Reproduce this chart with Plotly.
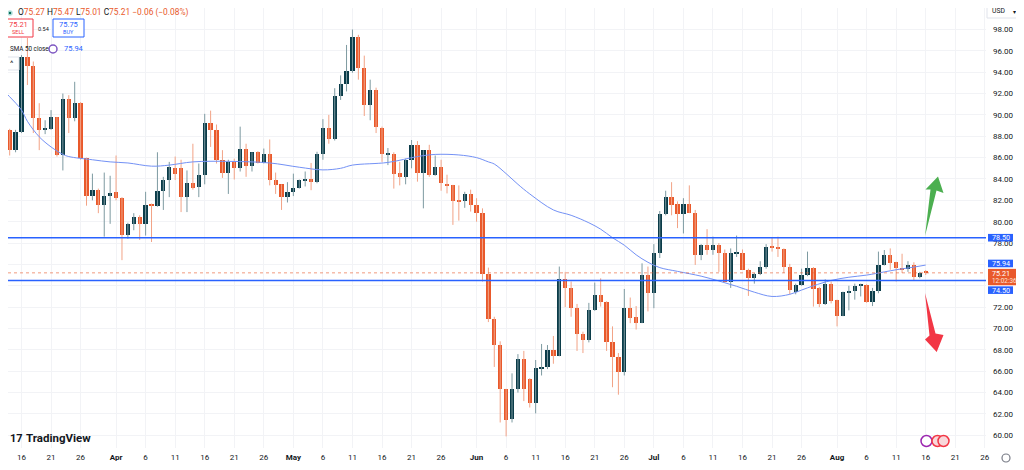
import pandas as pd
import plotly.graph_objects as go

# daily candles, 13 Mar -> 16 Aug
dates = pd.date_range("2025-03-13", periods=157, freq="D")

opens = [86.1, 88.6, 86.7, 88.4, 95.45, 94.6, 89.7, 88.6, 88.7, 89.8,
         86.2, 91.45, 89.7, 91.1, 86.0, 82.4, 83.0, 81.55, 82.4, 82.8,
         82.2, 78.8, 79.8, 80.45, 79.8, 81.6, 81.5, 82.9, 83.9, 85.05,
         85.05, 82.3, 83.6, 83.25, 84.4, 89.2, 88.6, 85.8, 84.6, 85.6,
         85.05, 86.8, 85.2, 86.55, 85.5, 86.3, 83.95, 83.5, 82.3, 82.75,
         83.15, 83.85, 84.0, 83.7, 86.3, 88.8, 87.7, 91.8, 92.9, 94.1,
         97.3, 94.4, 90.9, 92.3, 88.8, 86.3, 86.3, 84.6, 84.15, 85.8,
         87.2, 84.6, 86.7, 84.4, 85.1, 83.5, 83.4, 82.0, 81.9, 82.6,
         81.55, 80.8, 75.1, 70.9, 68.5, 64.3, 61.5, 64.3, 67.15, 65.3,
         63.0, 66.3, 66.35, 68.0, 67.45, 74.6, 73.8, 71.9, 69.45, 68.9,
         71.7, 73.1, 72.5, 68.7, 67.3, 65.95, 71.9, 71.05, 70.55, 75.0,
         73.3, 77.05, 80.7, 82.35, 81.7, 80.7, 81.7, 80.8, 76.9, 77.8,
         77.35, 77.8, 77.1, 74.4, 77.05, 77.05, 75.5, 74.7, 75.1, 75.8,
         77.6, 77.6, 77.45, 75.8, 73.4, 74.07, 75.0, 75.7, 73.75, 72.3,
         74.2, 72.65, 71.2, 73.4, 73.5, 74.0, 74.1, 72.5, 73.5, 75.95,
         76.9, 76.2, 75.7, 75.55, 75.95, 74.85, 75.27]
highs = [92.5, 88.7, 88.6, 95.6, 97.2, 95.0, 91.1, 89.5, 90.45, 89.8,
         92.0, 91.85, 93.1, 91.2, 86.0, 84.5, 83.1, 84.6, 84.3, 86.2,
         82.3, 79.9, 80.8, 80.6, 82.8, 81.7, 86.5, 84.2, 85.6, 86.1,
         85.8, 84.8, 87.3, 85.45, 90.1, 90.4, 89.1, 86.7, 85.8, 85.9,
         88.9, 87.3, 86.5, 86.6, 86.85, 87.7, 84.6, 83.5, 83.7, 84.5,
         83.95, 84.7, 85.5, 86.55, 89.6, 90.0, 92.5, 93.7, 96.55, 98.0,
         97.5, 95.55, 93.3, 92.55, 88.9, 86.9, 86.5, 85.6, 85.9, 87.65,
         87.55, 86.7, 87.2, 86.2, 85.8, 84.4, 83.45, 83.4, 82.8, 83.0,
         82.2, 81.25, 75.7, 71.1, 68.8, 64.35, 65.8, 67.6, 67.9, 65.35,
         67.05, 68.55, 68.45, 69.3, 75.8, 75.3, 74.4, 72.3, 69.7, 72.4,
         74.3, 74.7, 72.55, 70.2, 67.7, 73.7, 72.9, 72.1, 76.1, 75.8,
         77.9, 81.0, 82.9, 83.7, 81.9, 82.2, 83.4, 81.1, 77.9, 79.3,
         78.6, 78.0, 77.4, 77.5, 78.7, 77.4, 75.6, 75.2, 76.3, 77.9,
         78.5, 78.6, 77.5, 76.05, 74.2, 75.6, 77.2, 75.75, 73.9, 74.6,
         74.4, 72.7, 73.45, 74.0, 74.2, 74.2, 74.15, 73.8, 77.2, 77.35,
         77.5, 76.25, 77.0, 76.3, 76.2, 75.3, 75.47]
lows = [85.6, 86.2, 86.5, 88.3, 92.8, 88.3, 86.7, 88.2, 88.6, 86.1,
        84.8, 88.3, 89.4, 85.8, 81.5, 82.0, 80.8, 78.6, 79.8, 82.0,
        76.4, 78.4, 79.2, 78.3, 78.7, 78.1, 81.4, 81.1, 82.3, 83.9,
        80.9, 80.9, 83.0, 82.3, 83.5, 87.0, 85.45, 84.1, 82.6, 83.95,
        84.7, 84.2, 84.7, 85.45, 85.45, 83.4, 82.6, 81.1, 81.8, 82.4,
        83.1, 83.3, 82.95, 83.6, 85.8, 87.3, 87.6, 91.4, 92.2, 93.95,
        93.3, 89.9, 89.5, 88.3, 85.6, 85.3, 83.1, 83.4, 83.5, 85.0,
        83.75, 81.25, 84.2, 84.3, 82.9, 82.65, 79.7, 80.1, 81.3, 80.95,
        80.0, 74.4, 70.6, 66.4, 61.2, 59.9, 61.2, 64.0, 63.2, 62.6,
        62.05, 65.6, 66.2, 66.7, 67.4, 72.0, 71.1, 67.9, 67.7, 68.7,
        71.65, 72.05, 67.9, 64.5, 63.8, 65.6, 70.5, 69.9, 70.5, 71.6,
        71.9, 76.6, 80.6, 80.6, 79.4, 78.9, 80.8, 75.95, 76.4, 76.9,
        76.9, 75.3, 74.4, 73.8, 76.7, 75.5, 73.05, 74.2, 75.0, 75.6,
        77.2, 76.7, 75.2, 73.2, 73.2, 74.0, 74.9, 72.05, 72.0, 72.2,
        72.35, 70.2, 71.15, 71.7, 72.7, 73.0, 72.4, 72.1, 73.3, 75.9,
        75.5, 74.4, 75.2, 75.3, 74.5, 74.7, 75.01]
closes = [88.6, 86.7, 88.4, 95.45, 94.6, 89.7, 88.6, 88.7, 89.8, 86.2,
          91.45, 89.7, 91.1, 86.0, 82.4, 83.0, 81.55, 82.4, 82.7, 82.2,
          78.8, 79.8, 80.45, 79.8, 81.6, 81.5, 82.9, 83.9, 85.1, 84.5,
          82.3, 83.6, 83.2, 84.4, 89.2, 88.6, 85.8, 84.6, 85.6, 85.05,
          86.8, 85.2, 86.5, 85.5, 86.3, 83.95, 83.4, 82.3, 82.75, 83.15,
          83.9, 84.0, 83.7, 86.3, 88.8, 87.7, 91.8, 92.9, 94.1, 97.3,
          94.4, 90.9, 92.3, 88.9, 86.3, 86.35, 84.5, 84.15, 85.8, 87.2,
          84.6, 86.7, 84.4, 85.1, 83.6, 83.4, 81.95, 81.9, 82.6, 81.55,
          80.8, 75.1, 70.9, 68.45, 64.3, 61.4, 64.3, 67.15, 64.3, 63.0,
          66.3, 66.4, 68.0, 67.45, 74.6, 73.8, 71.95, 69.45, 68.9, 71.7,
          73.1, 72.5, 68.7, 67.3, 65.95, 71.9, 70.95, 70.55, 75.0, 73.3,
          77.05, 80.7, 82.35, 81.6, 80.7, 81.7, 80.85, 76.9, 77.8, 77.35,
          77.8, 77.1, 74.4, 77.05, 77.2, 75.5, 74.7, 75.1, 75.8, 77.6,
          77.55, 77.45, 75.8, 73.6, 74.07, 75.0, 75.7, 73.7, 72.3, 74.2,
          72.6, 71.2, 73.4, 73.5, 74.0, 74.1, 72.5, 73.5, 75.95, 76.9,
          76.1, 75.7, 75.5, 75.9, 74.8, 75.2, 75.21]

# SMA 50
sma_dates = ["2025-03-12", "2025-03-14", "2025-03-16", "2025-03-17", "2025-03-19",
             "2025-03-21", "2025-03-23", "2025-03-24", "2025-03-28", "2025-03-31",
             "2025-04-03", "2025-04-07", "2025-04-10", "2025-04-14", "2025-04-20",
             "2025-04-27", "2025-05-02", "2025-05-06", "2025-05-09", "2025-05-11",
             "2025-05-17", "2025-05-22", "2025-05-25", "2025-05-29", "2025-06-01",
             "2025-06-03", "2025-06-04", "2025-06-06", "2025-06-08", "2025-06-10",
             "2025-06-14", "2025-06-17", "2025-06-20", "2025-06-22", "2025-06-24",
             "2025-06-26", "2025-06-28", "2025-06-30", "2025-07-02", "2025-07-05",
             "2025-07-09", "2025-07-12", "2025-07-15", "2025-07-18", "2025-07-21",
             "2025-07-24", "2025-07-26", "2025-07-28", "2025-07-31", "2025-08-03",
             "2025-08-06", "2025-08-09", "2025-08-11", "2025-08-14", "2025-08-16"]
sma_values = [92.8, 91.7, 90.45, 89.4, 87.95, 87.0, 86.3, 86.1, 85.8, 85.6,
              85.5, 85.2, 85.3, 85.6, 85.65, 85.5, 85.1, 84.85, 85.0, 85.3,
              85.55, 86.1, 86.3, 86.25, 86.0, 85.6, 85.4, 84.5, 83.5, 82.6,
              81.1, 80.6, 79.9, 79.3, 78.5, 77.8, 76.9, 76.2, 75.7, 75.35,
              74.9, 74.45, 73.95, 73.4, 73.0, 73.2, 73.6, 74.0, 74.5, 74.8,
              75.0, 75.3, 75.5, 75.75, 75.94]

levels = [78.5, 74.5]
tick_dates = ["2025-03-16", "2025-03-21", "2025-03-26", "2025-04-01", "2025-04-06",
              "2025-04-11", "2025-04-16", "2025-04-21", "2025-04-26", "2025-05-01",
              "2025-05-06", "2025-05-11", "2025-05-16", "2025-05-21", "2025-05-26",
              "2025-06-01", "2025-06-06", "2025-06-11", "2025-06-16", "2025-06-21",
              "2025-06-26", "2025-07-01", "2025-07-06", "2025-07-11", "2025-07-16",
              "2025-07-21", "2025-07-26", "2025-08-01", "2025-08-06", "2025-08-11",
              "2025-08-16", "2025-08-21", "2025-08-26"]
tick_labels = ["16", "21", "26", "<b>Apr</b>", "6", "11", "16", "21", "26", "<b>May</b>",
               "6", "11", "16", "21", "26", "<b>Jun</b>", "6", "11", "16", "21",
               "26", "<b>Jul</b>", "6", "11", "16", "21", "26", "<b>Aug</b>", "6", "11",
               "16", "21", "26"]
price_ticks = [60, 62, 64, 66, 68, 70, 72, 74, 76, 78, 80, 82, 84, 86, 88, 90, 92, 94, 96, 98]
# 74 and 76 sit under the price labels on the axis, so their text is hidden
price_labels = ["60.00", "62.00", "64.00", "66.00", "68.00", "70.00", "72.00", "", "",
                "78.00", "80.00", "82.00", "84.00", "86.00", "88.00", "90.00", "92.00",
                "94.00", "96.00", "98.00"]

UP = "#0b3c49"
DOWN = "#e9592b"
UP_WICK = "#7d9aa1"
DOWN_WICK = "#f2a386"
BLUE = "#2962ff"
TXT = "#131722"

# page has an 8px body margin, so the figure is drawn 8px in from the corner
OFF = 8
W, H = 1024 - OFF, 470 - OFF
ML, MR, MT, MB = 0, 38, 0, 22
PW, PH = W - ML - MR, H - MT - MB


def px(x):
    # reference-picture pixel -> paper x
    return (x - OFF - ML) / PW


def py(y):
    return 1 - (y - OFF - MT) / PH


fig = go.Figure()

# wicks
for up in (True, False):
    wx, wy = [], []
    for d, o, h, l, c in zip(dates, opens, highs, lows, closes):
        if (c >= o) == up:
            wx += [d, d, None]
            wy += [l, h, None]
    fig.add_trace(go.Scatter(x=wx, y=wy, mode="lines", hoverinfo="skip",
                             line=dict(color=UP_WICK if up else DOWN_WICK, width=1)))

# bodies
base = [min(o, c) for o, c in zip(opens, closes)]
height = [max(abs(c - o), 0.09) for o, c in zip(opens, closes)]
cols = [UP if c >= o else DOWN for o, c in zip(opens, closes)]
fig.add_trace(go.Bar(x=dates, y=height, base=base, marker_color=cols,
                     marker_line_width=0, width=0.72 * 86400000))

fig.add_trace(go.Scatter(x=sma_dates, y=sma_values, mode="lines",
                         line=dict(color="#7391f5", width=1, shape="spline"),
                         hoverinfo="skip"))

for lv in levels:
    fig.add_hline(y=lv, line=dict(color=BLUE, width=1.5))
fig.add_hline(y=closes[-1], line=dict(color=DOWN, width=1, dash="dot"), opacity=0.6)


def note(x, y, text, size=8, color=TXT, xa="center", **kw):
    d = dict(x=x, y=y, text=text, xanchor=xa, yanchor="middle", showarrow=False,
             xref="paper", yref="paper", font=dict(size=size, color=color))
    d.update(kw)
    return d


ann = []
# header
ann.append(note(px(16), py(13), (
    "O<span style='color:#e9592b'>75.27</span> H<span style='color:#e9592b'>75.47</span> "
    "L<span style='color:#e9592b'>75.01</span> C<span style='color:#e9592b'>75.21</span> "
    "<span style='color:#e9592b'>−0.06 (−0.08%)</span>"), size=8.4, xa="left"))
ann.append(note(px(18), py(24.5), "75.21", 7.5, "#f23645"))
ann.append(note(px(18), py(32), "SELL", 5.5, "#f23645"))
ann.append(note(px(68.5), py(24.5), "75.75", 7.5, BLUE))
ann.append(note(px(68.5), py(32), "BUY", 5.5, BLUE))
ann.append(note(px(43), py(29), "0.54", 5.5))
ann.append(note(px(8), py(49), "SMA 50 close", 6.3, xa="left"))
ann.append(note(px(62), py(49), "75.94", 7.5, BLUE, xa="left"))
ann.append(note(px(12), py(63), "^", 8))
# logo
ann.append(note(px(8), py(438), "<b>17</b>", 11, xa="left"))
ann.append(note(px(24), py(438), "<b>TradingView</b>", 11.5, xa="left"))
# USD box
ann.append(note(px(990), py(11.5), "USD", 6.8, xa="left"))
ann.append(note(px(1015), py(11.5), "▾", 6))

shapes = [
    dict(type="rect", xref="paper", yref="paper", x0=px(3), x1=px(33), y0=py(19), y1=py(37),
         line=dict(color="#f23645", width=1), fillcolor="white"),
    dict(type="rect", xref="paper", yref="paper", x0=px(53), x1=px(84), y0=py(19), y1=py(37),
         line=dict(color=BLUE, width=1), fillcolor="white"),
    dict(type="rect", xref="paper", yref="paper", x0=px(2), x1=px(19), y0=py(57), y1=py(70),
         line=dict(color="#e0e3eb", width=1), fillcolor="white"),
    dict(type="circle", xref="paper", yref="paper", x0=px(8), x1=px(12), y0=py(11), y1=py(15),
         line=dict(color="#b2dfdb", width=1.5), fillcolor="#0b6e5a"),
    dict(type="circle", xref="paper", yref="paper", x0=px(49), x1=px(57), y0=py(45), y1=py(53),
         line=dict(color="#7e57c2", width=1.5), fillcolor="white"),
    dict(type="rect", xref="paper", yref="paper", x0=px(987), x1=px(1020), y0=py(4), y1=py(18),
         line=dict(color="#e0e3eb", width=1), fillcolor="white"),
    # arrows
    dict(type="path", xref="paper", yref="paper", fillcolor="#4caf50", line=dict(width=0),
         path="M {} {} L {} {} L {} {} L {} {} L {} {} L {} {} Z".format(
             px(925), py(236), px(936.5), py(190.5), px(943.5), py(193),
             px(938), py(176.5), px(925.5), py(189.5), px(930.5), py(189.5))),
    dict(type="path", xref="paper", yref="paper", fillcolor="#f23645", line=dict(width=0),
         path="M {} {} L {} {} L {} {} L {} {} L {} {} L {} {} Z".format(
             px(925), py(293), px(929.5), py(335.5), px(925), py(339.5),
             px(936.7), py(352), px(943.5), py(335), px(935.5), py(333.5))),
    # event icons
    dict(type="circle", xref="paper", yref="paper", x0=px(921), x1=px(932), y0=py(435.5), y1=py(446.5),
         line=dict(color="#9c27b0", width=1.5), fillcolor="white"),
    dict(type="circle", xref="paper", yref="paper", x0=px(932), x1=px(943), y0=py(435.5), y1=py(446.5),
         line=dict(color="#f23645", width=1.5), fillcolor="#f8d7da"),
    dict(type="circle", xref="paper", yref="paper", x0=px(938), x1=px(949), y0=py(435.5), y1=py(446.5),
         line=dict(color="#f23645", width=1.5), fillcolor="#f8d7da"),
    # gear
    dict(type="circle", xref="paper", yref="paper", x0=px(1002), x1=px(1010), y0=py(454), y1=py(462),
         line=dict(color="#787b86", width=1.2), fillcolor="white"),
]

# price-axis labels: (value, text, colour, pixel shift of box centre, box half height, right edge)
axis_labels = [
    (levels[0], "78.50", BLUE, 0, 3.8, 1013),
    (sma_values[-1], "75.94", BLUE, 1.6, 3.8, 1013),
    (closes[-1], "75.21", DOWN, -4.2, 8.2, 1020),
    (levels[1], "74.50", BLUE, -9.7, 3.8, 1013),
]
for val, txt, col, sh, hh, right in axis_labels:
    shapes.append(dict(type="rect", xref="paper", yref="y", ysizemode="pixel", yanchor=val,
                       x0=px(988), x1=px(right), y0=sh - hh, y1=sh + hh,
                       line=dict(width=0), fillcolor=col))
    ytxt = sh if hh < 5 else sh + 4
    ann.append(note(px(989.5), val, txt, 7.2, "white", xa="left", yref="y", yshift=ytxt))
ann.append(note(px(989.5), closes[-1], "12:02:36", 6.4, "#fde2d6", xa="left", yref="y",
                yshift=-8.0))

fig.update_layout(annotations=ann)
fig.update_layout(shapes=list(fig.layout.shapes) + shapes)

fig.update_layout(
    width=W, height=H,
    margin=dict(l=ML, r=MR, t=MT, b=MB),
    paper_bgcolor="white", plot_bgcolor="white",
    showlegend=False, bargap=0,
    font=dict(family="Roboto", color=TXT, size=8),
    xaxis=dict(type="date", range=["2025-03-13 17:10", "2025-08-26 04:50"],
               tickvals=tick_dates, ticktext=tick_labels, tickangle=0,
               showgrid=True, gridcolor="#f2f3f6", zeroline=False, showline=False,
               tickfont=dict(size=8, color=TXT), automargin=False, ticklabelstandoff=3),
    yaxis=dict(side="right", range=[58.81, 100.01], tickvals=price_ticks, ticktext=price_labels,
               showgrid=True, gridcolor="#f2f3f6", zeroline=False, showline=False,
               tickfont=dict(size=8, color=TXT), automargin=False, ticklabelstandoff=6),
)

fig.write_html("out.html")
